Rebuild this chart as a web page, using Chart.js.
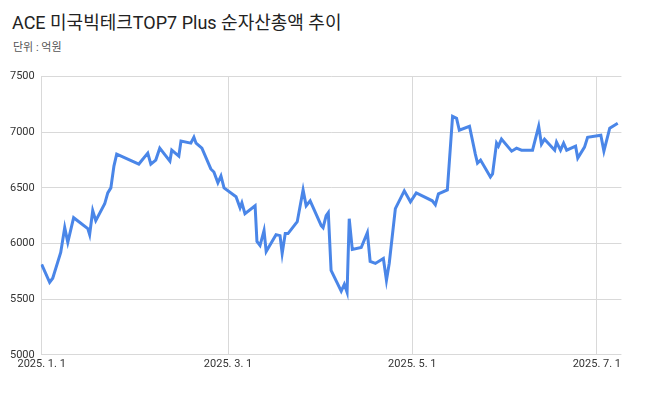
<!DOCTYPE html>
<html lang="ko">
<head>
<meta charset="UTF-8">
<title>ACE 순자산총액 추이</title>
<script src="https://cdn.jsdelivr.net/npm/chart.js"></script>
<style>
    body { margin: 0; background: #fff; font-family: Roboto, "Noto Sans CJK KR", sans-serif; }
    #wrap { position: relative; width: 670px; height: 418px; }
    h2 { position: absolute; left: 12px; top: 8px; margin: 0; font-size: 18px; font-weight: normal; color: #222; }
    p { position: absolute; left: 13px; top: 38px; margin: 0; font-size: 11px; color: #555; }
    #chartBox { position: absolute; left: 4px; top: 64px; width: 620px; height: 310px; }
</style>
</head>
<body>
<div id="wrap">
<h2>ACE 미국빅테크TOP7 Plus 순자산총액 추이</h2>
<p>단위 : 억원</p>
<div id="chartBox"><canvas id="mychart"></canvas></div>
</div>
<script>
// day offset from 2025-01-01
const days = [0,2.6,3.6,6.2,7.5,8.5,10.4,15.0,15.6,16.6,17.6,20.5,21.5,22.5,23.5,24.4,31.6,34.5,35.5,37.1,38.4,41.7,42.3,44.6,45.3,48.5,49.5,50.2,52.1,55.0,56.0,57.3,58.3,59.3,63.2,64.5,65.1,66.1,69.4,70.0,71.0,72.3,73.0,76.2,77.5,78.2,79.2,80.1,83.1,85.0,86.0,87.3,90.9,91.5,92.5,93.2,94.1,97.4,98.4,99.3,100.0,101.0,103.9,105.9,106.8,108.5,111.1,112.1,113.0,115.0,117.9,119.9,121.8,127.0,128.0,129.0,131.9,133.6,134.9,135.8,139.1,141.0,141.7,142.7,145.9,146.6,147.9,148.5,149.5,152.8,154.4,156.0,159.6,161.6,162.5,163.5,166.8,167.4,168.7,169.7,170.7,173.6,174.3,176.5,177.5,181.8,182.8,184.7,187.3];
const netAssets = [5812,5652,5688,5920,6143,6010,6232,6134,6080,6295,6205,6357,6455,6500,6696,6804,6714,6812,6714,6750,6857,6741,6839,6786,6920,6902,6955,6902,6857,6670,6643,6545,6607,6500,6420,6321,6366,6268,6339,6018,5982,6116,5929,6080,6071,5911,6089,6089,6196,6482,6339,6384,6161,6143,6250,6277,5759,5571,5634,5562,6223,5946,5964,6098,5839,5821,5866,5670,5821,6313,6473,6375,6455,6384,6348,6446,6482,7143,7125,7018,7054,6804,6723,6750,6598,6625,6902,6875,6938,6830,6857,6839,6839,7054,6893,6938,6839,6911,6839,6902,6839,6875,6768,6866,6955,6973,6830,7036,7080];
const tickDays = [0,60.6,120.5,180.5];
const tickLabels = ['2025. 1. 1','2025. 3. 1','2025. 5. 1','2025. 7. 1'];

const points = days.map((d, i) => ({x: d, y: netAssets[i]}));

new Chart(document.getElementById('mychart'), {
    type: 'line',
    data: {
        datasets: [{
            data: points,
            borderColor: '#4a86e8',
            borderWidth: 3,
            pointRadius: 0,
            tension: 0
        }]
    },
    options: {
        responsive: true,
        maintainAspectRatio: false,
        animation: false,
        layout: { padding: { top: 8, right: 0 } },
        plugins: { legend: { display: false }, tooltip: { enabled: false } },
        scales: {
            x: {
                type: 'linear',
                min: -0.3,
                max: 188.5,
                afterBuildTicks: axis => { axis.ticks = tickDays.map(v => ({value: v})); },
                ticks: {
                    autoSkip: false,
                    maxRotation: 0,
                    color: '#333',
                    font: { size: 11, family: 'Roboto' },
                    callback: (v) => tickLabels[tickDays.indexOf(v)]
                },
                grid: { color: '#d9d9d9', drawTicks: false },
                border: { display: false }
            },
            y: {
                min: 5000,
                max: 7500,
                ticks: { stepSize: 500, color: '#333', font: { size: 11, family: 'Roboto' }, padding: 6,
                    callback: v => String(v) },
                grid: { color: '#d9d9d9', drawTicks: false },
                border: { display: false }
            }
        }
    }
});
</script>
</body>
</html>
